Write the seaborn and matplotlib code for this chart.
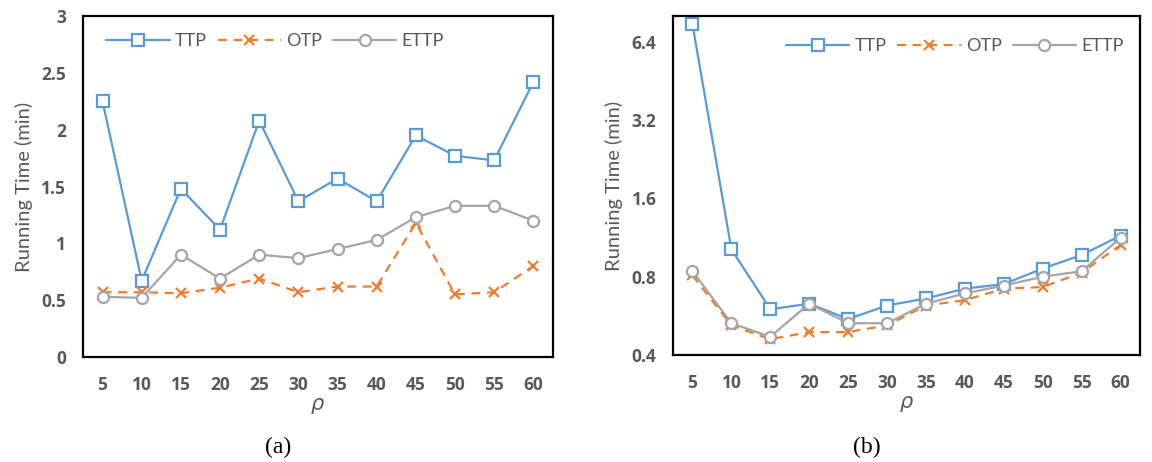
import matplotlib
matplotlib.use("Agg")
import matplotlib.pyplot as plt
import seaborn as sns
import numpy as np

sns.set_style("white")
plt.rcParams['font.family'] = ['Lato', 'DejaVu Sans']

# values
rho = [5, 10, 15, 20, 25, 30, 35, 40, 45, 50, 55, 60]

ttp_a = [2.25, 0.67, 1.48, 1.12, 2.08, 1.37, 1.57, 1.37, 1.95, 1.77, 1.73, 2.42]
otp_a = [0.57, 0.57, 0.56, 0.61, 0.69, 0.57, 0.62, 0.62, 1.18, 0.55, 0.57, 0.80]
ettp_a = [0.53, 0.52, 0.90, 0.69, 0.90, 0.87, 0.95, 1.03, 1.23, 1.33, 1.33, 1.20]

ttp_b = [7.49, 1.02, 0.60, 0.63, 0.55, 0.62, 0.66, 0.72, 0.75, 0.86, 0.97, 1.15]
otp_b = [0.81, 0.52, 0.46, 0.49, 0.49, 0.52, 0.62, 0.65, 0.72, 0.73, 0.83, 1.06]
ettp_b = [0.84, 0.53, 0.47, 0.63, 0.53, 0.53, 0.63, 0.69, 0.74, 0.80, 0.84, 1.13]

yticks_a = [0, 0.5, 1, 1.5, 2, 2.5, 3]
yticks_b = [0.4, 0.8, 1.6, 3.2, 6.4]

BLUE = "#5B9BD5"
ORANGE = "#ED7D31"
GREY = "#A5A5A5"
TXT = "#595959"

fig = plt.figure(figsize=(11.52, 4.62), dpi=100)
ax_a = fig.add_axes([0.0720, 0.2273, 0.408, 0.738])
ax_b = fig.add_axes([0.5842, 0.2316, 0.4054, 0.734])

pos = np.arange(len(rho))


def bold_ticks(ax):
    for lab in ax.get_xticklabels() + ax.get_yticklabels():
        lab.set_family(["Open Sans", "DejaVu Sans"])
        lab.set_fontweight("bold")
        lab.set_fontsize(12.5)


def draw(ax, ttp, otp, ettp):
    sns.lineplot(x=pos, y=ttp, ax=ax, color=BLUE, lw=1.6, marker="s", ms=9,
                 mfc="white", mec=BLUE, mew=1.6, label="TTP")
    sns.lineplot(x=pos, y=otp, ax=ax, color=ORANGE, lw=1.6, marker="x", ms=7,
                 mec=ORANGE, mew=1.6, label="OTP")
    ax.lines[-1].set_dashes([4, 3])
    sns.lineplot(x=pos, y=ettp, ax=ax, color=GREY, lw=1.6, marker="o", ms=8,
                 mfc="white", mec=GREY, mew=1.6, label="ETTP")
    ax.set_xlim(-0.5, len(rho) - 0.5)
    ax.set_xticks(pos)
    ax.set_xticklabels([str(r) for r in rho])
    ax.tick_params(length=0, labelcolor=TXT)
    ax.tick_params(axis="y", pad=12)
    ax.tick_params(axis="x", pad=14)
    for sp in ax.spines.values():
        sp.set_visible(True)
        sp.set_color("black")
        sp.set_linewidth(1.6)
    ax.set_ylabel("Running Time (min)", fontsize=14.5, color=TXT, labelpad=6)
    ax.set_xlabel(r"$\rho$", fontsize=15, color=TXT, labelpad=1)
    ax.grid(False)


draw(ax_a, ttp_a, otp_a, ettp_a)
ax_a.set_ylim(0, 3)
ax_a.set_yticks(yticks_a)
ax_a.set_yticklabels([f"{t:g}" for t in yticks_a])
bold_ticks(ax_a)
ax_a.legend(loc="center left", bbox_to_anchor=(0.05, 0.927), ncol=3,
            frameon=False, fontsize=13, labelcolor=TXT, handlelength=3.5,
            handletextpad=0.3, columnspacing=0.6, borderpad=0, borderaxespad=0)

draw(ax_b, ttp_b, otp_b, ettp_b)
ax_b.set_yscale("log", base=2)
ax_b.set_ylim(0.4, 8.06)
ax_b.set_yticks(yticks_b)
ax_b.set_yticklabels([f"{t:g}" for t in yticks_b])
ax_b.minorticks_off()
bold_ticks(ax_b)
ax_b.legend(loc="center right", bbox_to_anchor=(0.965, 0.91), ncol=3,
            frameon=False, fontsize=13, labelcolor=TXT, handlelength=3.5,
            handletextpad=0.3, columnspacing=0.6, borderpad=0, borderaxespad=0)

fig.text(278 / 1152, 1 - 447 / 462, "(a)", ha="center", va="center",
         fontsize=17, family="Liberation Serif", color="black")
fig.text(867 / 1152, 1 - 447 / 462, "(b)", ha="center", va="center",
         fontsize=17, family="Liberation Serif", color="black")

fig.savefig("out.png", dpi=100, facecolor="white")
